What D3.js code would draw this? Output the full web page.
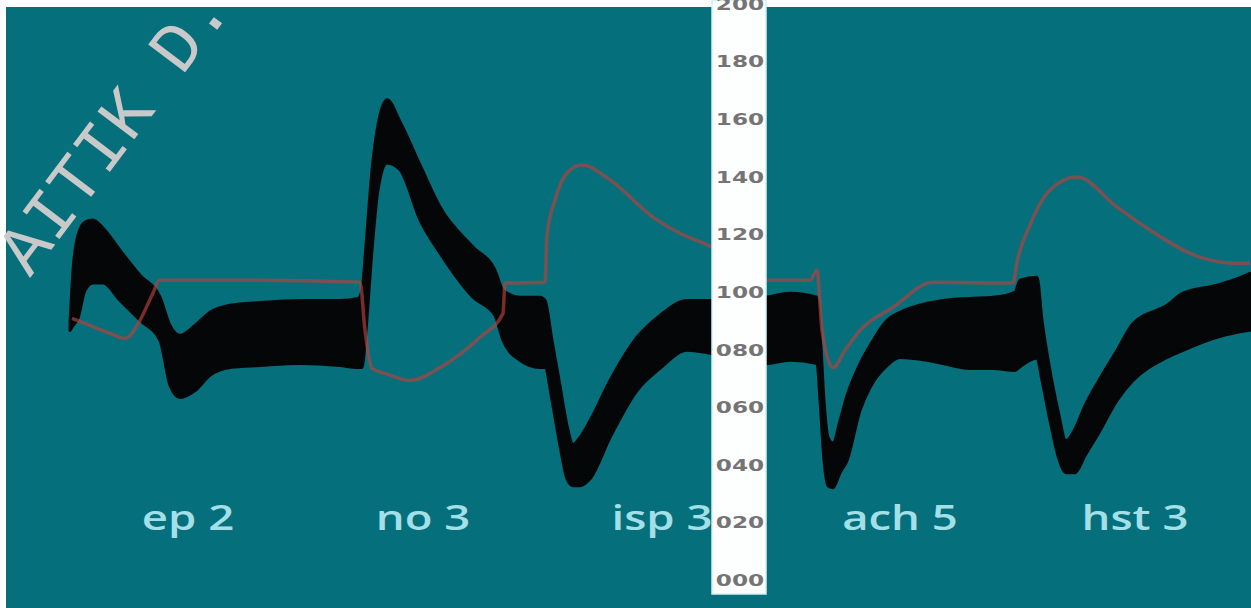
<!DOCTYPE html>
<html>
<head>
<meta charset="utf-8">
<script src="https://cdn.jsdelivr.net/npm/d3@7"></script>
<style>
  html, body { margin: 0; padding: 0; background: #fff; }
  svg { display: block; }
</style>
</head>
<body>
<div id="chart"></div>
<script>
// time in minutes, pressure in mmHg
const bpTime = [0, 0.15, 0.4, 0.75, 1.15, 1.65, 2.5, 3.5, 4.5, 5.0, 5.5, 6.25, 7.0, 8.0, 9.5, 11.5, 13.5, 14.4,
  14.6, 14.8, 15.1, 15.4, 15.85, 16.5, 17.5, 18.5, 20.15, 21.25, 21.65, 22.5, 23.5,
  23.75, 24.1, 24.5, 24.85, 25.15, 25.5, 26.0, 27.0, 28.35, 29.5, 30.85, 32.1,
  34.75, 36.0, 37.35,
  37.5, 37.7, 37.9, 38.15, 38.5, 38.85, 39.5, 40.0, 40.85, 41.5, 42.85, 43.65, 45.0, 46.15, 47.25, 47.5, 48.35,
  48.6, 49.0, 49.4, 49.8, 50.25, 50.75, 51.5, 52.35, 53.15, 54.85, 55.65, 57.35, 58.15, 59.0]
const bpHigh = [89.0, 107.5, 119.7, 124.2, 124.9, 122.1, 114.4, 105.7, 98.1, 88.3, 84.9, 88.3, 92.9, 95.3, 96.3, 97.0, 97.0, 97.7,
  100.5, 116.2, 142.3, 157.9, 166.6, 159.0, 144.0, 129.4, 115.5, 107.5, 100.5, 98.1, 98.1,
  97.0, 83.1, 67.5, 53.6, 47.0, 49.5, 55.3, 69.2, 84.2, 91.8, 97.0, 97.0,
  98.1, 99.5, 98.1,
  86.6, 62.3, 49.5, 47.5, 55.3, 64.0, 75.1, 81.4, 90.1, 92.9, 96.0, 97.0, 97.7, 98.1, 99.8, 104.0, 105.0,
  90.1, 72.7, 58.8, 48.3, 52.5, 60.5, 69.9, 79.7, 89.0, 95.3, 99.5, 102.3, 104.0, 106.4]
const bpLow = [86.6, 88.3, 90.8, 100.5, 103.0, 103.0, 97.0, 90.1, 83.1, 67.5, 63.3, 65.7, 71.0, 73.7, 74.4, 75.1, 74.4, 73.7,
  73.7, 86.6, 114.4, 135.3, 144.7, 142.3, 124.9, 113.4, 98.1, 91.8, 83.1, 76.2, 73.7,
  73.7, 62.3, 46.6, 35.1, 32.7, 32.7, 35.1, 49.4, 65.7, 73.4, 79.7, 78.6,
  75.1, 76.2, 75.1,
  62.3, 41.4, 32.7, 32.0, 37.2, 41.4, 58.8, 66.8, 74.4, 77.2, 76.2, 75.1, 73.4, 73.4, 72.7, 74.0, 77.0,
  69.2, 55.3, 43.1, 37.2, 37.2, 43.1, 51.8, 62.3, 69.2, 77.2, 79.7, 84.2, 85.6, 86.6]

const hrTime = [0.1, 1.0, 2.0, 2.75, 3.5, 4.1, 4.5, 9.0, 14.5, 14.75, 15.1, 15.75, 17.0, 18.5, 20.5, 21.65, 21.75, 23.75,
  23.85, 24.25, 24.9, 25.6, 27.0, 29.15, 30.5, 32.1, 34.75, 37.0, 37.35, 37.6, 38.15, 38.75, 39.5, 41.15, 43.15,
  47.15, 47.35, 48.0, 49.0, 50.35, 52.35, 54.0, 56.5, 58.15, 59.0]
const hrValue = [90.8, 88.3, 85.6, 83.8, 90.1, 98.8, 104.0, 104.0, 103.3, 86.6, 73.4, 71.7, 69.2, 73.7, 84.2, 92.5, 103.0, 103.3,
  119.7, 131.8, 141.6, 144.0, 138.8, 125.9, 120.3, 115.5, 104.0, 104.0, 107.5, 86.6, 73.7, 79.7, 86.6, 94.6, 103.3,
  103.0, 110.3, 123.1, 135.3, 139.8, 129.4, 121.4, 112.0, 109.9, 109.9]

const drugNames = ['ep 2', 'no 3', 'isp 3', 'ach 5', 'hst 3']
const drugTimes = [5.9, 17.65, 29.6, 41.5, 53.25]

const yTicks = [0, 20, 40, 60, 80, 100, 120, 140, 160, 180, 200]

const width = 1251
const height = 608

const svg = d3
  .select('#chart')
  .append('svg')
  .attr('width', width)
  .attr('height', height)

svg.append('rect').attr('width', width).attr('height', height).attr('fill', '#fff')
svg.append('rect')
  .attr('x', 6).attr('y', 7)
  .attr('width', width - 6).attr('height', height - 7)
  .attr('fill', '#05707c')

const xPositionScale = d3.scaleLinear().domain([0, 59]).range([70, 1250])
const yPositionScale = d3.scaleLinear().domain([0, 200]).range([580, 3.5])

const bp = bpTime.map((t, i) => ({ t: t, hi: bpHigh[i], lo: bpLow[i] }))
const hr = hrTime.map((t, i) => ({ t: t, v: hrValue[i] }))

const bpArea = d3.area()
  .x(d => xPositionScale(d.t))
  .y0(d => yPositionScale(d.lo))
  .y1(d => yPositionScale(d.hi))
  .curve(d3.curveMonotoneX)

svg.append('path')
  .datum(bp)
  .attr('d', bpArea)
  .attr('fill', '#050608')
  .attr('stroke', '#050608')
  .attr('stroke-width', 3)
  .attr('stroke-linejoin', 'round')

const hrLine = d3.line()
  .x(d => xPositionScale(d.t))
  .y(d => yPositionScale(d.v))
  .curve(d3.curveMonotoneX)

svg.append('path')
  .datum(hr)
  .attr('d', hrLine)
  .attr('fill', 'none')
  .attr('stroke', '#b8403c')
  .attr('stroke-opacity', 0.65)
  .attr('stroke-width', 3.5)

// white axis strip
const strip = svg.append('g').attr('transform', 'translate(712,0)')
strip.append('rect')
  .attr('x', 0).attr('y', 0)
  .attr('width', 54).attr('height', 594)
  .attr('fill', '#fdfefe')
  .attr('stroke', '#d4f0f3')
  .attr('stroke-width', 1.5)

const yAxis = d3.axisRight(yPositionScale)
  .tickValues(yTicks)
  .tickSize(0)
  .tickFormat(d3.format('03d'))

strip.append('g')
  .attr('class', 'axis y-axis')
  .call(yAxis)

strip.select('.domain').remove()
strip.selectAll('.tick line').remove()
strip.selectAll('.tick text')
  .attr('x', 0)
  .attr('dy', '0.35em')
  .attr('text-anchor', 'middle')
  .attr('transform', 'translate(28,0) scale(1.45,1)')
  .attr('fill', '#747474')
  .attr('font-family', 'DejaVu Sans, sans-serif')
  .attr('font-weight', 'bold')
  .attr('font-size', 16)

// drug labels
svg.selectAll('.drug')
  .data(drugNames)
  .enter()
  .append('text')
  .attr('class', 'drug')
  .attr('transform', (d, i) => 'translate(' + xPositionScale(drugTimes[i]) + ',530) scale(1.3,1)')
  .attr('text-anchor', 'middle')
  .attr('fill', '#a3dfe7')
  .attr('font-family', 'Open Sans, sans-serif')
  .attr('font-weight', 600)
  .attr('font-size', 35)
  .text(d => d)

// watermark
svg.append('text')
  .attr('transform', 'translate(30,278) rotate(-53)')
  .attr('fill', '#c9c9c9')
  .attr('font-family', 'Liberation Mono, monospace')
  .attr('font-size', 70)
  .text('AITIK D.')
</script>
</body>
</html>
